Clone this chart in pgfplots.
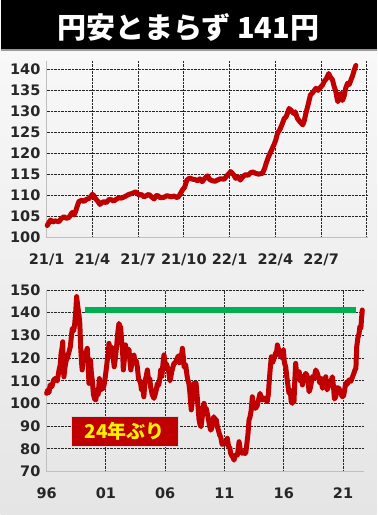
\documentclass[border=0pt]{standalone}
\usepackage{fontspec}
\setmainfont{Noto Sans CJK JP}
\newfontfamily\tickfont{DejaVu Sans}
\usepackage{pgfplots}
\pgfplotsset{compat=1.18}
\definecolor{bgtop}{HTML}{FAFAFA}
\definecolor{bgbot}{HTML}{E5E5E5}
\definecolor{lred}{HTML}{C00000}
\definecolor{lgreen}{HTML}{00B050}
\pgfplotsset{
  panel/.style={
    scale only axis,
    axis x line*=bottom, axis y line*=left,
    axis line style={black!25, -, line width=0.8pt},
    grid=major,
    grid style={black!85, densely dotted, line width=1pt},
    major tick length=0pt,
    tick style={draw=none},
    /pgf/number format/assume math mode=true,
    ticklabel style={font=\tickfont\bfseries\fontsize{14.5}{16}\selectfont, text=black!85, inner sep=0pt},
    xticklabel style={anchor=north, yshift=-16pt},
    yticklabel style={anchor=east, xshift=-6pt},
    clip=false,
  }
}
\begin{document}
\begin{tikzpicture}[x=1pt,y=1pt]
\shade[top color=bgtop,bottom color=bgbot] (0,0) rectangle (376,515);
\fill[black] (0,465) rectangle (376,515);
\draw[black!40,line width=1.2pt] (0,465) -- (376,465);
\node[text=white,font=\fontsize{29}{32}\selectfont\bfseries] at (187.5,488) {円安とまらず 141円};

\begin{axis}[panel,
  at={(46pt,277.3pt)}, anchor=south west,
  width=321pt, height=176.8pt,
  xmin=0, xmax=21.05, ymin=100, ymax=142,
  xtick={0,3,6,9,12,15,18,21},
  xticklabels={21/1,21/4,21/7,21/10,22/1,22/4,22/7,{}},
  ytick={100,105,...,140},
]
\addplot[lred, line width=5pt, line join=round, line cap=round] coordinates {
(0.04,102.9) (0.15,103.6) (0.26,104.2) (0.4,103.7) (0.55,104.0) (0.81,103.8)
(0.95,104.5) (1.14,105.0) (1.3,104.6) (1.47,104.8) (1.58,105.5) (1.68,106.0)
(1.8,105.4) (1.9,106.2) (2.0,107.4) (2.12,108.6) (2.3,108.9) (2.45,108.6)
(2.6,109.1) (2.78,109.3) (2.9,109.8) (3.0,110.3) (3.1,110.0) (3.2,109.3)
(3.35,108.7) (3.5,107.9) (3.62,108.3) (3.76,108.6) (3.9,108.3) (4.1,109.1)
(4.25,109.0) (4.4,108.7) (4.6,109.2) (4.75,109.5) (4.9,109.4) (5.1,109.7)
(5.25,110.0) (5.4,110.3) (5.6,110.5) (5.84,110.9) (5.95,110.6) (6.06,110.1)
(6.2,110.3) (6.4,109.7) (6.55,110.0) (6.7,110.3) (6.85,109.8) (7.05,109.2)
(7.15,109.8) (7.26,110.1) (7.45,109.5) (7.7,109.6) (7.9,110.0) (8.14,109.7)
(8.35,109.9) (8.58,109.5) (8.7,110.0) (8.9,111.3) (9.05,112.0) (9.2,113.7)
(9.4,114.2) (9.56,113.9) (9.75,113.8) (9.9,113.5) (10.05,114.0) (10.2,113.3)
(10.4,114.2) (10.55,114.7) (10.7,113.8) (10.9,113.5) (11.05,113.4) (11.2,113.7)
(11.4,114.0) (11.64,113.9) (11.85,114.8) (12.08,115.7) (12.25,115.0) (12.4,114.1)
(12.55,114.5) (12.7,113.7) (12.9,114.6) (13.06,115.0) (13.2,114.8) (13.4,115.5)
(13.55,115.6) (13.7,115.3) (13.9,115.1) (14.16,115.3) (14.3,116.5) (14.4,117.7)
(14.55,119.2) (14.7,120.4) (14.8,121.2) (14.9,122.0) (15.02,123.1) (15.14,124.8)
(15.3,125.7) (15.47,127.2) (15.58,128.3) (15.7,128.7) (15.8,129.6) (15.9,130.7)
(16.05,130.2) (16.2,129.5) (16.3,129.9) (16.45,128.3) (16.6,127.6) (16.8,126.8)
(16.9,127.8) (17.0,129.5) (17.15,131.6) (17.3,133.9) (17.48,134.6) (17.66,135.5)
(17.8,135.0) (18.0,135.9) (18.1,136.3) (18.2,137.1) (18.35,137.8) (18.5,139.0)
(18.6,138.2) (18.75,137.5) (18.85,136.0) (18.97,134.7) (19.05,133.0) (19.1,132.3)
(19.2,133.4) (19.3,134.3) (19.4,132.6) (19.5,133.5) (19.62,135.6) (19.74,136.7)
(19.85,136.4) (19.96,137.5) (20.07,138.5) (20.17,139.8) (20.28,140.9)
};
\end{axis}

\begin{axis}[panel,
  at={(46pt,43.3pt)}, anchor=south west,
  width=317pt, height=181.7pt,
  xmin=1996, xmax=2022.73, ymin=70, ymax=150,
  xtick={1996,2001,2006,2011,2016,2021},
  xticklabels={96,01,06,11,16,21},
  ytick={70,80,...,150},
]
\addplot[lgreen, line width=6pt, forget plot] coordinates {(1999.2,141) (2022.05,141)};
\addplot[lred, line width=5pt, line join=round, line cap=round] coordinates {
(1996.00,104.5) (1996.10,106) (1996.20,104.8) (1996.30,108.2) (1996.45,107.5)
(1996.60,110.5) (1996.76,111.1) (1996.90,110) (1997.05,114.8) (1997.15,117)
(1997.22,122) (1997.30,124.3) (1997.36,127.2) (1997.42,115) (1997.46,111.8)
(1997.55,116) (1997.65,119) (1997.74,119.9) (1997.85,122) (1998.00,125)
(1998.10,130) (1998.17,133.1) (1998.28,132) (1998.36,134.6) (1998.45,140)
(1998.53,147.1) (1998.60,144) (1998.67,141.2) (1998.75,138) (1998.80,135.3)
(1998.87,125) (1998.95,118) (1999.00,114.8) (1999.08,120) (1999.15,122.1)
(1999.25,120) (1999.35,123) (1999.43,124.3) (1999.50,118) (1999.57,108.9)
(1999.65,114) (1999.70,119.2) (1999.78,113) (1999.85,110.4) (1999.95,104)
(2000.05,102) (2000.15,101.6) (2000.25,106) (2000.35,104) (2000.45,111)
(2000.55,106) (2000.65,108) (2000.75,106.5) (2000.85,108.2) (2000.95,111.8)
(2001.05,116) (2001.12,119.2) (2001.20,122) (2001.26,126.5) (2001.35,124)
(2001.45,125) (2001.54,123.6) (2001.62,120) (2001.70,116.2) (2001.80,120)
(2001.90,125) (2002.00,131) (2002.10,135.3) (2002.18,134) (2002.24,133.9)
(2002.32,128) (2002.40,124) (2002.47,114.8) (2002.55,119) (2002.66,125.8)
(2002.75,121) (2002.85,124) (2002.95,123.6) (2003.02,119) (2003.10,114.8)
(2003.20,118) (2003.30,121) (2003.37,121.4) (2003.45,118) (2003.55,119)
(2003.65,116.2) (2003.75,111) (2003.85,110) (2003.93,108.9) (2004.00,106)
(2004.10,107) (2004.20,103) (2004.30,110) (2004.40,112) (2004.50,114.8)
(2004.60,110) (2004.70,111) (2004.77,107.4) (2004.90,104) (2005.05,102.3)
(2005.15,104) (2005.25,106) (2005.34,108.9) (2005.45,108) (2005.55,111)
(2005.62,114.8) (2005.72,112) (2005.82,118) (2005.90,121.4) (2006.00,117)
(2006.10,117.5) (2006.18,116.2) (2006.30,114) (2006.40,110) (2006.46,111.1)
(2006.55,114) (2006.65,116) (2006.74,117.7) (2006.85,118) (2006.95,119)
(2007.02,119.9) (2007.10,121) (2007.20,118) (2007.30,121) (2007.40,122)
(2007.45,124.3) (2007.52,121) (2007.60,116) (2007.67,117) (2007.73,117)
(2007.85,112) (2007.93,110) (2008.00,108.9) (2008.08,105) (2008.15,100)
(2008.20,97.2) (2008.30,102) (2008.43,108.9) (2008.50,106) (2008.60,109)
(2008.70,103) (2008.78,98) (2008.85,93) (2008.95,90.5) (2009.02,89.8)
(2009.10,93) (2009.20,98) (2009.27,100.1) (2009.35,97) (2009.45,98)
(2009.55,95.7) (2009.65,93) (2009.75,90) (2009.84,88.3) (2009.92,89)
(2010.00,92) (2010.10,94.2) (2010.20,92) (2010.30,93) (2010.40,89.8)
(2010.50,88) (2010.60,86) (2010.68,85.4) (2010.80,82) (2010.96,82.5)
(2011.05,83) (2011.15,82) (2011.24,84.7) (2011.35,81) (2011.45,80.5)
(2011.52,78.1) (2011.62,77) (2011.70,76.5) (2011.80,75.1) (2011.90,77)
(2012.00,77.5) (2012.09,77.3) (2012.18,81) (2012.23,83.2) (2012.32,80)
(2012.42,79) (2012.50,78.1) (2012.60,78.5) (2012.70,78) (2012.79,78.1)
(2012.88,82) (2012.97,86) (2013.07,92.8) (2013.15,94) (2013.25,97)
(2013.35,103) (2013.45,98) (2013.55,100) (2013.63,97.9) (2013.75,99)
(2013.90,102.3) (2014.00,104.5) (2014.10,102) (2014.20,101.6) (2014.30,102.5)
(2014.40,102) (2014.50,101.5) (2014.60,100.8) (2014.70,104) (2014.76,108.9)
(2014.85,115) (2014.95,120.6) (2015.05,118) (2015.15,119.5) (2015.30,122.1)
(2015.40,123) (2015.46,125.8) (2015.55,124) (2015.65,121) (2015.74,122.1)
(2015.85,120) (2015.97,123.6) (2016.05,118) (2016.16,116.2) (2016.25,112)
(2016.35,108) (2016.44,104.5) (2016.55,106) (2016.62,101) (2016.72,100.1)
(2016.80,103) (2016.86,100.8) (2016.93,110) (2017.00,117.7) (2017.10,112)
(2017.20,114) (2017.30,114) (2017.40,110) (2017.50,112) (2017.57,108.2)
(2017.70,111) (2017.85,113.3) (2017.95,112.5) (2018.05,110) (2018.13,105.2)
(2018.25,107) (2018.40,111.8) (2018.55,111) (2018.70,114.8) (2018.85,113)
(2018.97,110.4) (2019.05,109) (2019.15,111) (2019.26,106.7) (2019.40,109)
(2019.54,111.8) (2019.65,106) (2019.82,108.2) (2019.95,109.5) (2020.10,111.8)
(2020.20,107) (2020.27,102) (2020.38,103) (2020.50,107) (2020.66,106.7)
(2020.80,104.5) (2020.94,103.0) (2021.05,103.5) (2021.22,108.9) (2021.35,108.5)
(2021.50,110.4) (2021.65,109.8) (2021.80,111.8) (2021.92,113.5) (2022.00,114.8)
(2022.08,115.5) (2022.15,125) (2022.25,129) (2022.35,130.9) (2022.42,134)
(2022.50,133.1) (2022.55,137) (2022.62,141.2)
};
\node[fill=lred, draw=white!85!black, line width=0.6pt, minimum width=107pt, minimum height=30pt, inner sep=0pt,
  text=yellow, font=\fontsize{19}{22}\selectfont\bfseries] at (axis cs:2002.6,87.6) {24年ぶり};
\end{axis}
\end{tikzpicture}
\end{document}
